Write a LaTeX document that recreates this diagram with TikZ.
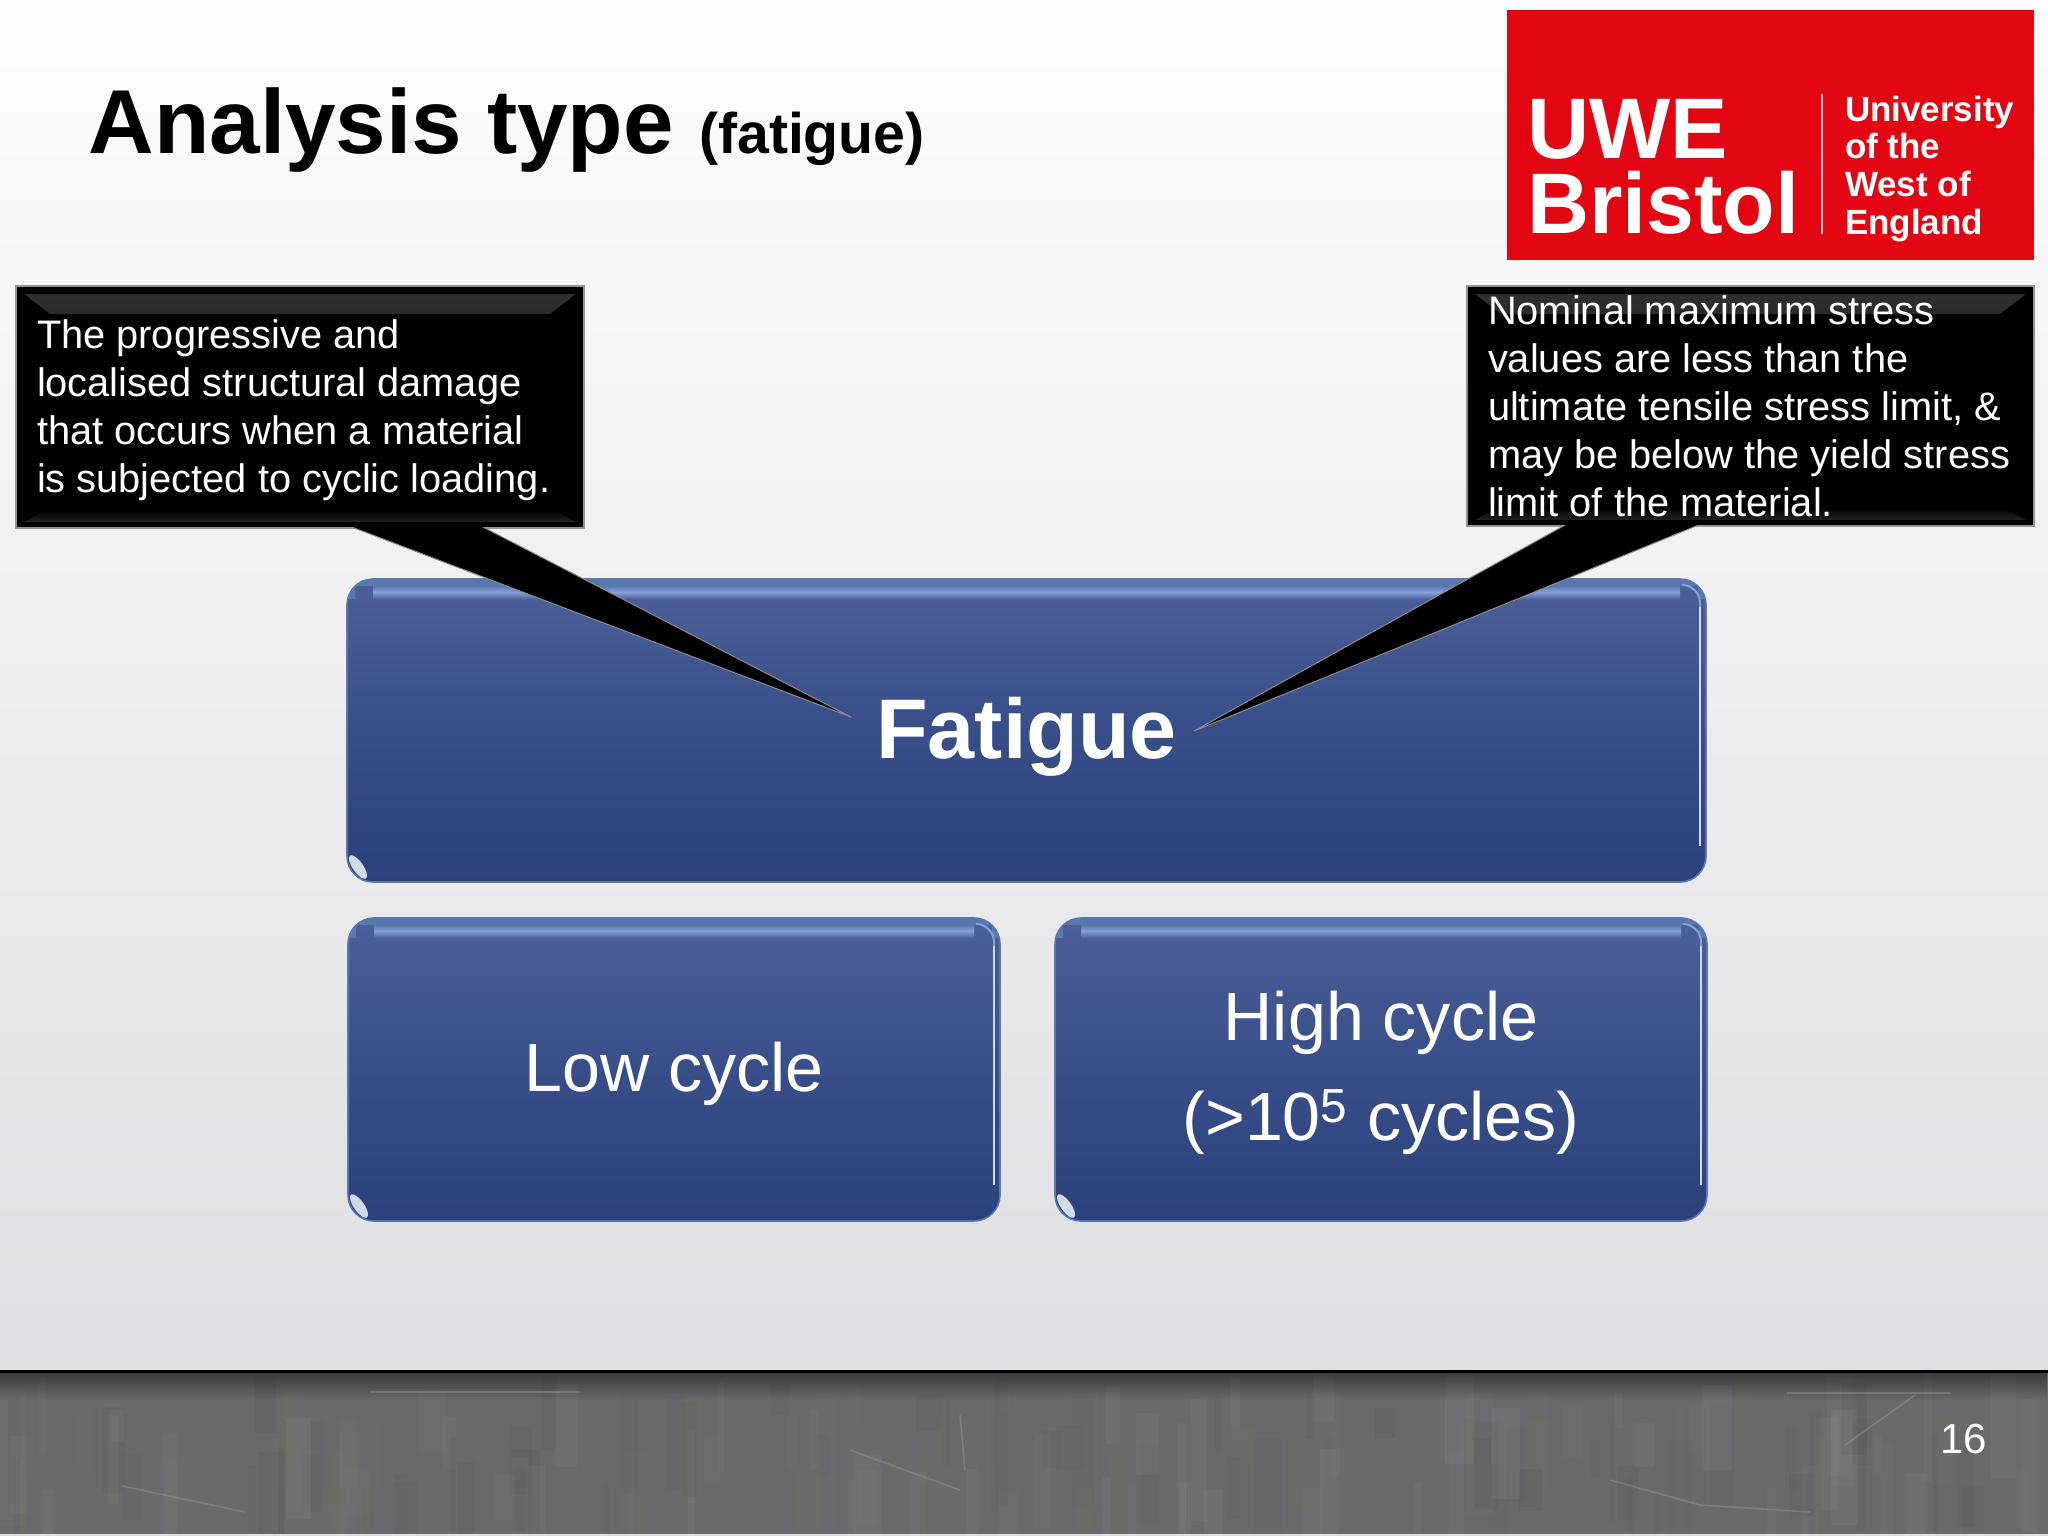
\documentclass[tikz,border=0pt]{standalone}
\usepackage{fontspec}
\setmainfont{Liberation Sans}
\usetikzlibrary{calc,shadings,fadings}
\definecolor{bgtop}{HTML}{FDFDFD}
\definecolor{bgmid}{HTML}{EFEFEF}
\definecolor{bgbot}{HTML}{DFDEE2}
\definecolor{boxtop}{HTML}{4C6098}
\definecolor{boxmid}{HTML}{384E88}
\definecolor{boxbot}{HTML}{2C417C}
\definecolor{boxedge}{HTML}{5878AE}
\definecolor{boxglow}{HTML}{86A0D8}
\definecolor{uwered}{HTML}{E20613}
\definecolor{floorside}{HTML}{6A6A6C}
\definecolor{floormid}{HTML}{7E7E80}
\definecolor{floorline}{HTML}{9A9A94}
\definecolor{bevel}{HTML}{303030}
\tikzset{
  x=0.5pt,y=-0.5pt,
  every node/.style={inner sep=0pt,outer sep=0pt},
  slidebox/.style={
    rounded corners=13pt,draw=boxedge,line width=0.8pt,
    top color=boxtop,bottom color=boxbot,middle color=boxmid,
    text=white,align=center,
    path picture={
      \begin{scope}[sharp corners]
      \fill[boxedge] (path picture bounding box.north west) rectangle ($(path picture bounding box.north east)+(0,7)$);
      \shade[top color=boxedge,bottom color=boxglow]
        ($(path picture bounding box.north west)+(26,7)$) rectangle ($(path picture bounding box.north east)+(-26,13)$);
      \shade[top color=boxglow,bottom color=boxtop]
        ($(path picture bounding box.north west)+(26,13)$) rectangle ($(path picture bounding box.north east)+(-26,20)$);
      \fill[boxedge] ($(path picture bounding box.north west)+(0,7)$) rectangle ($(path picture bounding box.north west)+(8,20)$);
      \fill[boxedge] ($(path picture bounding box.north east)+(-8,7)$) rectangle ($(path picture bounding box.north east)+(0,20)$);
      \draw[white!72!boxedge,line width=1pt]
        ($(path picture bounding box.north east)+(-6,26)$) --
        ($(path picture bounding box.south east)+(-6,-36)$);
      \end{scope}
      \draw[boxglow,line width=1pt,rounded corners=9pt]
        ($(path picture bounding box.north east)+(-24,6)$) --
        ($(path picture bounding box.north east)+(-6,6)$) --
        ($(path picture bounding box.north east)+(-6,28)$);
      \fill[white!72!boxedge] ($(path picture bounding box.south west)+(11,-15)$)
        ellipse[x radius=2.6pt,y radius=7pt,rotate=35];
    }},
  calloutbox/.style={
    fill=black,draw=black!42,line width=1.2pt,
    path picture={
      \shade[top color=bevel,bottom color=black]
        ($(path picture bounding box.north west)+(8,8)$) --
        ($(path picture bounding box.north east)+(-8,8)$) --
        ($(path picture bounding box.north east)+(-34,28)$) --
        ($(path picture bounding box.north west)+(34,28)$) -- cycle;
      \shade[top color=black,bottom color=bevel!70!black]
        ($(path picture bounding box.south west)+(30,-18)$) --
        ($(path picture bounding box.south east)+(-30,-18)$) --
        ($(path picture bounding box.south east)+(-8,-6)$) --
        ($(path picture bounding box.south west)+(8,-6)$) -- cycle;
    }},
  calltext/.style={text=white,align=left,anchor=north west,font=\fontsize{19.9pt}{24pt}\selectfont},
  tail/.style={fill=black,draw=black!45,line width=0.5pt,line join=round},
  logotext/.style={text=white,align=left,anchor=north west},
  scratch/.style={draw=floorline,line width=0.8pt,opacity=0.4},
}
\begin{document}
\begin{tikzpicture}
\useasboundingbox (0,0) rectangle (2048,1536);
% background
\fill[top color=bgtop,middle color=bgmid,bottom color=bgbot] (0,0) rectangle (2048,1372);
\fill[bgbot] (0,1532) rectangle (2048,1536);
% floor band
\fill[left color=floorside,middle color=floormid,right color=floorside] (0,1372) rectangle (2048,1533);
\pgfmathsetseed{7}
\begin{scope}
\clip (0,1372) rectangle (2048,1533);
\foreach \i in {1,...,220}{
  \pgfmathsetmacro{\sx}{2048*rnd}
  \pgfmathsetmacro{\sy}{1372+120*rnd}
  \pgfmathsetmacro{\sw}{4+26*rnd}
  \pgfmathsetmacro{\sh}{30+110*rnd}
  \pgfmathsetmacro{\so}{0.012+0.03*rnd}
  \pgfmathtruncatemacro{\sk}{int(3*rnd)}
  \ifcase\sk
    \fill[black,opacity=\so] (\sx,\sy) rectangle ++(\sw,\sh);
  \or
    \fill[white,opacity=\so] (\sx,\sy) rectangle ++(\sw,\sh);
  \else
    \fill[olive!50!gray,opacity=\so] (\sx,\sy) rectangle ++(\sw,\sh);
  \fi
}
\end{scope}
\fill[black,opacity=0.45,path fading=south] (0,1372) rectangle (2048,1400);
\fill[black] (0,1370) rectangle (2048,1373);
\draw[scratch] (122,1486) -- (245,1512);
\draw[scratch] (370,1392) -- (580,1392);
\draw[scratch] (850,1450) -- (960,1490);
\draw[scratch] (960,1415) -- (965,1470);
\draw[scratch] (1787,1393) -- (1950,1393);
\draw[scratch] (1915,1395) -- (1845,1445);
\draw[scratch] (1610,1480) -- (1700,1505) -- (1810,1512);
% title
\node[anchor=base west,font=\fontsize{45.4pt}{54pt}\selectfont\bfseries] (title) at (88.5,154)
  {Analysis type {\fontsize{28.6pt}{34pt}\selectfont (fatigue)}};
% logo
\node[fill=uwered,minimum width=263.5pt,minimum height=125pt] (logo) at (1770.5,135) {};
\node[logotext,font=\fontsize{43pt}{37.5pt}\selectfont\bfseries] (logoname) at (1527,99) {UWE\\Bristol};
\draw[white!80!uwered,line width=1pt] ($(logo.south west)+(315,-26)$) -- ($(logo.north west)+(315,84)$);
\node[logotext,font=\fontsize{17.5pt}{18.8pt}\selectfont\bfseries] (logouni) at (1845,96) {University\\of the\\West of\\England};
% process boxes
\node[slidebox,minimum width=679.5pt,minimum height=151.5pt,font=\fontsize{42.3pt}{50pt}\selectfont\bfseries,text height=27.5pt,text depth=0pt] (fatigue) at (1026.5,730.5) {Fatigue};
\node[slidebox,minimum width=326pt,minimum height=151.5pt,font=\fontsize{34.1pt}{50pt}\selectfont,text height=21.5pt,text depth=0pt] (low) at (674,1069.5) {Low cycle};
\node[slidebox,minimum width=326pt,minimum height=151.5pt,font=\fontsize{34.1pt}{50pt}\selectfont] (high) at (1381,1069.5) {\rule{0pt}{28.5pt}High cycle\\(>10\textsuperscript{5} cycles)};
% callouts
\node[calloutbox,minimum width=284pt,minimum height=121pt] (calloutL) at (300,407) {};
\node[calloutbox,minimum width=283.5pt,minimum height=120pt] (calloutR) at (1750.5,406) {};
\coordinate (tipL) at (851,717);
\coordinate (tipR) at (1194,731);
\fill[tail] ($(calloutL.south west)+(333,-2)$) -- (tipL) -- ($(calloutL.south west)+(465,-2)$) -- cycle;
\fill[tail] ($(calloutR.south west)+(100,-2)$) -- (tipR) -- ($(calloutR.south west)+(234,-2)$) -- cycle;
\fill[black] ($(calloutL.south west)+(330,-6)$) rectangle ($(calloutL.south west)+(468,-1)$);
\fill[black] ($(calloutR.south west)+(97,-6)$) rectangle ($(calloutR.south west)+(237,-1)$);
\node[calltext] (textL) at (37,320) {The progressive and\\localised structural damage\\that occurs when a material\\is subjected to cyclic loading.};
\node[calltext] (textR) at (1488,296) {Nominal maximum stress\\values are less than the\\ultimate tensile stress limit, \&\\may be below the yield stress\\limit of the material.};
% page number
\node[anchor=base east,text=white,font=\fontsize{21pt}{25pt}\selectfont] (pageno) at (1987,1453) {16};
\end{tikzpicture}
\end{document}
